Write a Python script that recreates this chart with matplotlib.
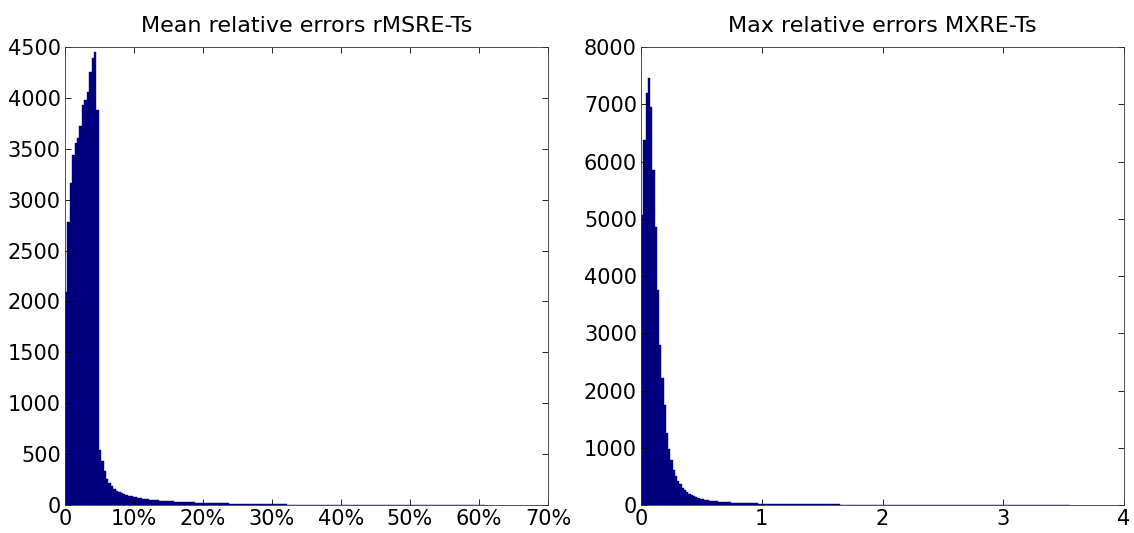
import numpy as np
import matplotlib
matplotlib.use('Agg')
import matplotlib.pyplot as plt

plt.rcParams['font.family'] = ['DejaVu Sans']

# left panel: rMSRE-Ts histogram, bins of 0.35 % from 0 to 70 %
left_bin = 0.0035
left_peak = [2090, 2780, 3160, 3440, 3560, 3610, 3720, 3930, 3980, 4060,
             4250, 4390, 4450, 3880]
left_tail = [540, 430, 330, 260, 215, 185, 160, 140, 125, 115,
             105, 97, 90, 84, 79, 74, 70, 66, 62, 59,
             56, 53, 51, 48, 46, 44, 42, 41, 39, 37,
             36, 34, 33, 32, 30, 29, 28, 27, 26, 25,
             24, 23, 22, 22, 21, 20, 19, 19, 18, 17,
             17, 16, 15, 15, 14, 14, 13, 13, 12, 12,
             11, 11, 10, 10, 10, 9, 9, 9, 8, 8,
             8, 7, 7, 7, 6, 6, 6, 6, 5, 5,
             5, 5, 5, 4, 4, 4, 4, 4, 3, 3,
             3, 3, 3, 3, 3, 2, 2, 2, 2, 2,
             2, 2, 2, 2, 2, 2, 1, 2, 1, 1,
             1, 1, 1, 2, 1, 1, 1, 1, 1, 1,
             1, 1, 0, 1, 1, 1, 0, 1, 1, 0,
             1, 0, 1, 0, 1, 0, 0, 1, 0, 1,
             0, 0, 1, 0, 0, 1, 0, 0, 0, 1,
             0, 0, 1, 0, 0, 0, 0, 0, 0, 0]
left_counts = left_peak + left_tail

# right panel: MXRE-Ts histogram, 200 bins up to ~3.74
right_bin = 0.0187
right_peak = [5070, 6380, 7190, 7460, 6950, 5860, 4860, 3760, 2800, 2210,
              1750, 1260, 980, 780, 620, 500, 420, 360, 300, 260]
right_tail = [225, 195, 170, 150, 135, 122, 110, 100, 92, 84,
              77, 72, 67, 62, 58, 55, 52, 49, 46, 44,
              42, 40, 38, 36, 35, 33, 32, 31, 30, 29,
              28, 27, 26, 25, 24, 24, 23, 22, 22, 21,
              20, 20, 19, 19, 18, 18, 17, 17, 16, 16,
              15, 15, 15, 14, 14, 14, 13, 13, 13, 12,
              12, 12, 11, 11, 11, 10, 10, 10, 9, 9,
              9, 9, 8, 8, 8, 8, 7, 7, 7, 7,
              6, 6, 6, 6, 6, 5, 5, 5, 5, 5,
              4, 4, 4, 4, 4, 4, 3, 3, 3, 3,
              3, 3, 3, 2, 2, 2, 2, 2, 2, 2,
              2, 2, 1, 2, 1, 1, 1, 1, 1, 2,
              1, 1, 1, 1, 0, 1, 1, 0, 1, 1,
              0, 1, 0, 1, 0, 0, 1, 0, 1, 0,
              0, 1, 0, 0, 1, 0, 0, 0, 1, 0,
              0, 0, 1, 0, 0, 0, 1, 0, 0, 1,
              0, 0, 0, 0, 1, 0, 0, 0, 0, 1]
right_counts = right_peak + right_tail

left_yticks = [0, 500, 1000, 1500, 2000, 2500, 3000, 3500, 4000, 4500]
left_xticks = [0, 0.1, 0.2, 0.3, 0.4, 0.5, 0.6, 0.7]
left_xlabels = ['0', '10%', '20%', '30%', '40%', '50%', '60%', '70%']
right_yticks = [0, 1000, 2000, 3000, 4000, 5000, 6000, 7000, 8000]
right_xticks = [0, 1, 2, 3, 4]

bar_col = '#00007f'

fig = plt.figure(figsize=(11.34, 5.33), dpi=100)
ax1 = fig.add_axes([0.0573, 0.0525, 0.4259, 0.8593])
ax2 = fig.add_axes([0.5653, 0.0525, 0.4259, 0.8593])


def draw_hist(ax, counts, width):
    edges = np.arange(len(counts)) * width
    ax.bar(edges, counts, width=width, align='edge', color=bar_col,
           edgecolor=bar_col, linewidth=0.3)


draw_hist(ax1, left_counts, left_bin)
draw_hist(ax2, right_counts, right_bin)

ax1.set_xlim(0, 0.7)
ax1.set_ylim(0, 4500)
ax1.set_xticks(left_xticks)
ax1.set_xticklabels(left_xlabels)
ax1.set_yticks(left_yticks)
ax1.set_title('Mean relative errors rMSRE-Ts', fontsize=16, pad=11)

ax2.set_xlim(0, 4)
ax2.set_ylim(0, 8000)
ax2.set_xticks(right_xticks)
ax2.set_yticks(right_yticks)
ax2.set_title('Max relative errors MXRE-Ts', fontsize=16, pad=11)

for ax in (ax1, ax2):
    ax.tick_params(direction='in', top=True, right=True, labelsize=15,
                   length=4, width=0.6, pad=3)
    for s in ax.spines.values():
        s.set_linewidth(0.6)
        s.set_color('#333333')

fig.savefig('out.png', dpi=100)
